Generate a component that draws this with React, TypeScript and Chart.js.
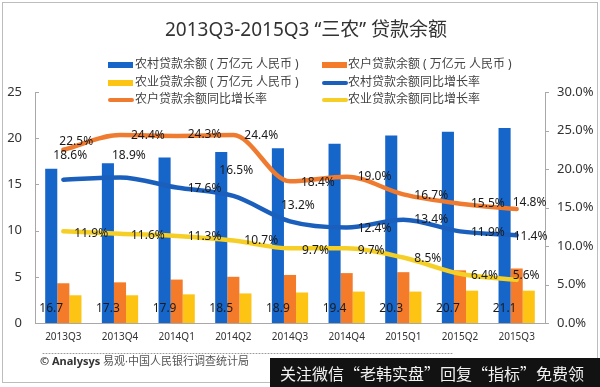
import React, { useEffect, useRef } from 'react';
import { Chart, registerables } from 'chart.js';

Chart.register(...registerables);

// ---------- data ----------
const categories = ['2013Q3', '2013Q4', '2014Q1', '2014Q2', '2014Q3', '2014Q4', '2015Q1', '2015Q2', '2015Q3'];
const ruralLoans = [16.7, 17.3, 17.9, 18.5, 18.9, 19.4, 20.3, 20.7, 21.1];
const farmerLoans = [4.3, 4.4, 4.7, 5.0, 5.2, 5.4, 5.5, 5.7, 5.9];
const agriLoans = [3.0, 3.0, 3.1, 3.2, 3.3, 3.4, 3.4, 3.5, 3.5];
const ruralGrowth = [18.6, 18.9, 17.6, 16.5, 13.2, 12.4, 13.4, 11.9, 11.4];
const farmerGrowth = [22.5, 24.4, 24.3, 24.4, 18.4, 19.0, 16.7, 15.5, 14.8];
const agriGrowth = [11.9, 11.6, 11.3, 10.7, 9.7, 9.7, 8.5, 6.4, 5.6];
const leftAxis = { min: 0, max: 25, step: 5 };
const rightAxis = { min: 0, max: 30, step: 5 };

const seriesNames = [
  '农村贷款余额 ( 万亿元 人民币 )',
  '农户贷款余额 ( 万亿元 人民币 )',
  '农业贷款余额 ( 万亿元 人民币 )',
  '农村贷款余额同比增长率',
  '农户贷款余额同比增长率',
  '农业贷款余额同比增长率',
];
const titleText = '2013Q3-2015Q3 “三农” 贷款余额';
const footerBold = '© Analysys';
const footerText = ' 易观·中国人民银行调查统计局';
const bannerText = '关注微信“老韩实盘”回复“指标”免费领';

// ---------- styles ----------
const BLUE = '#1665c9';
const BLUE_LINE = '#1b5fbd';
const ORANGE = '#f47b2a';
const ORANGE_LINE = '#ee7b30';
const YELLOW = '#fdc414';
const YELLOW_LINE = '#f5cf26';
const AXIS = '#a8a8a8';
const FONT = "'Noto Sans', 'Noto Sans CJK SC', sans-serif";

// label offsets (left edge dx, dy) relative to each line point
const labelDX: Record<number, number[]> = {
  3: [-10, -8, 11, -14, -9, 11, 11, 11, -3],
  4: [-4, 11, 11, 11, 11, 11, 11, 11, -4],
  5: [11, 11, 11, 11, 12, 11, 11, 11, -4],
};
const labelDY: Record<number, number[]> = {
  3: [-24, -22, 1, -25, -16, 1, 0, 1, 1],
  4: [-8, 0, -1, 0, 1, 0, 1, 0, -6],
  5: [2, 2, 1, 0, 2, 2, 1, 2, -4],
};

const overlayPlugin = {
  id: 'overlay',
  beforeDraw(chart: any) {
    const ctx = chart.ctx;
    ctx.save();
    ctx.fillStyle = '#ffffff';
    ctx.fillRect(0, 0, chart.width, chart.height);
    ctx.restore();
  },
  afterDatasetsDraw(chart: any) {
    const ctx = chart.ctx;
    ctx.save();
    ctx.font = `12px ${FONT}`;
    ctx.fillStyle = '#1a1a1a';
    ctx.textBaseline = 'middle';
    const barMeta = chart.getDatasetMeta(0);
    ctx.textAlign = 'center';
    barMeta.data.forEach((el: any, i: number) => {
      const v = chart.data.datasets[0].data[i];
      ctx.fillText(v.toFixed(1), el.x, el.base - 14);
    });
    ctx.textAlign = 'left';
    [3, 4, 5].forEach((di) => {
      const meta = chart.getDatasetMeta(di);
      meta.data.forEach((el: any, i: number) => {
        const v = chart.data.datasets[di].data[i];
        ctx.fillText(v.toFixed(1) + '%', el.x + labelDX[di][i], el.y + labelDY[di][i]);
      });
    });
    ctx.restore();
  },
  afterDraw(chart: any) {
    const ctx = chart.ctx;
    const area = chart.chartArea;
    ctx.save();

    // axis tick marks
    ctx.strokeStyle = AXIS;
    ctx.lineWidth = 1;
    const yl = chart.scales.y;
    yl.ticks.forEach((t: any) => {
      const y = Math.round(yl.getPixelForValue(t.value)) + 0.5;
      ctx.beginPath();
      ctx.moveTo(area.left, y);
      ctx.lineTo(area.left + 4, y);
      ctx.stroke();
    });
    const yr = chart.scales.y1;
    yr.ticks.forEach((t: any) => {
      const y = Math.round(yr.getPixelForValue(t.value)) + 0.5;
      ctx.beginPath();
      ctx.moveTo(area.right, y);
      ctx.lineTo(area.right + 4, y);
      ctx.stroke();
    });

    // title
    ctx.fillStyle = '#333333';
    ctx.font = `19px ${FONT}`;
    ctx.textAlign = 'center';
    ctx.textBaseline = 'middle';
    ctx.fillText(titleText, 306, 31);

    // legend (2 columns x 3 rows)
    const colSwatch = [108, 322];
    const colText = [135, 348];
    const rowY = [65, 83, 100];
    ctx.font = `12px ${FONT}`;
    ctx.textAlign = 'left';
    chart.data.datasets.forEach((ds: any, i: number) => {
      const col = i % 2;
      const row = Math.floor(i / 2);
      const x = colSwatch[col];
      const y = rowY[row];
      if (ds.type === 'line') {
        ctx.strokeStyle = ds.borderColor;
        ctx.lineWidth = 4;
        ctx.lineCap = 'round';
        ctx.beginPath();
        ctx.moveTo(x + 2, y);
        ctx.lineTo(x + 24, y);
        ctx.stroke();
      } else {
        ctx.fillStyle = ds.backgroundColor;
        ctx.fillRect(x, y - 3, 25, 6);
      }
      ctx.fillStyle = '#444444';
      ctx.fillText(ds.label, colText[col], y);
    });

    // footer dotted line
    ctx.strokeStyle = '#9a9a9a';
    ctx.lineWidth = 1;
    ctx.setLineDash([1, 2]);
    ctx.beginPath();
    ctx.moveTo(43, 353.5);
    ctx.lineTo(452, 353.5);
    ctx.stroke();
    ctx.setLineDash([]);

    // footer text
    ctx.textBaseline = 'middle';
    ctx.font = `bold 11px ${FONT}`;
    ctx.fillStyle = '#333333';
    ctx.fillText(footerBold, 40, 362);
    const w = ctx.measureText(footerBold).width;
    ctx.font = `11px ${FONT}`;
    ctx.fillStyle = '#555555';
    ctx.fillText(footerText, 40 + w, 362);

    // frame
    ctx.strokeStyle = '#bdbdbd';
    ctx.strokeRect(2.5, 2.5, 595, 380);

    // banner
    ctx.fillStyle = '#121212';
    ctx.fillRect(270, 358, 330, 29);
    ctx.fillStyle = '#f2f2f2';
    ctx.font = `16px 'Noto Sans CJK SC', sans-serif`;
    ctx.textAlign = 'left';
    ctx.fillText(bannerText, 280, 374);

    ctx.restore();
  },
};

export default function App() {
  const ref = useRef<HTMLCanvasElement | null>(null);

  useEffect(() => {
    if (!ref.current) return;
    Chart.defaults.font.family = FONT;
    const barCommon = { yAxisID: 'y', categoryPercentage: 0.64, barPercentage: 1.0, order: 2 };
    const lineCommon = {
      type: 'line' as const,
      yAxisID: 'y1',
      borderWidth: 4.5,
      cubicInterpolationMode: 'monotone' as const,
      pointRadius: 0,
      fill: false,
      borderCapStyle: 'round' as const,
      order: 1,
    };
    const chart = new Chart(ref.current, {
      type: 'bar',
      data: {
        labels: categories,
        datasets: [
          { ...barCommon, type: 'bar', label: seriesNames[0], data: ruralLoans, backgroundColor: BLUE },
          { ...barCommon, type: 'bar', label: seriesNames[1], data: farmerLoans, backgroundColor: ORANGE },
          { ...barCommon, type: 'bar', label: seriesNames[2], data: agriLoans, backgroundColor: YELLOW },
          { ...lineCommon, label: seriesNames[3], data: ruralGrowth, borderColor: BLUE_LINE, backgroundColor: BLUE_LINE },
          { ...lineCommon, label: seriesNames[4], data: farmerGrowth, borderColor: ORANGE_LINE, backgroundColor: ORANGE_LINE },
          { ...lineCommon, label: seriesNames[5], data: agriGrowth, borderColor: YELLOW_LINE, backgroundColor: YELLOW_LINE },
        ] as any,
      },
      options: {
        animation: false,
        responsive: false,
        layout: { padding: { top: 92, left: 0, right: 0, bottom: 0 } },
        plugins: {
          legend: { display: false },
          title: { display: false },
          tooltip: { enabled: false },
        },
        scales: {
          x: {
            grid: { display: false, drawTicks: false },
            border: { display: true, color: AXIS },
            ticks: { font: { size: 10 }, color: '#333333', padding: 8, maxRotation: 0, autoSkip: false },
            afterFit: (s: any) => { s.height = 64; },
          },
          y: {
            position: 'left',
            min: leftAxis.min,
            max: leftAxis.max,
            ticks: { stepSize: leftAxis.step, padding: 13, font: { size: 13 }, color: '#333333' },
            grid: { display: false, drawTicks: false },
            border: { display: true, color: AXIS },
            afterFit: (s: any) => { s.width = 35; },
          },
          y1: {
            position: 'right',
            min: rightAxis.min,
            max: rightAxis.max,
            ticks: {
              stepSize: rightAxis.step,
              padding: 12,
              font: { size: 13 },
              color: '#333333',
              callback: (v: any) => Number(v).toFixed(1) + '%',
            },
            grid: { display: false, drawTicks: false },
            border: { display: true, color: AXIS },
            afterFit: (s: any) => { s.width = 55; },
          },
        },
      } as any,
      plugins: [overlayPlugin],
    });
    return () => chart.destroy();
  }, []);

  return (
    <div style={{ position: 'absolute', left: 0, top: 0, width: 600, height: 387 }}>
      <canvas ref={ref} width={600} height={387} style={{ width: 600, height: 387, display: 'block' }} />
    </div>
  );
}
